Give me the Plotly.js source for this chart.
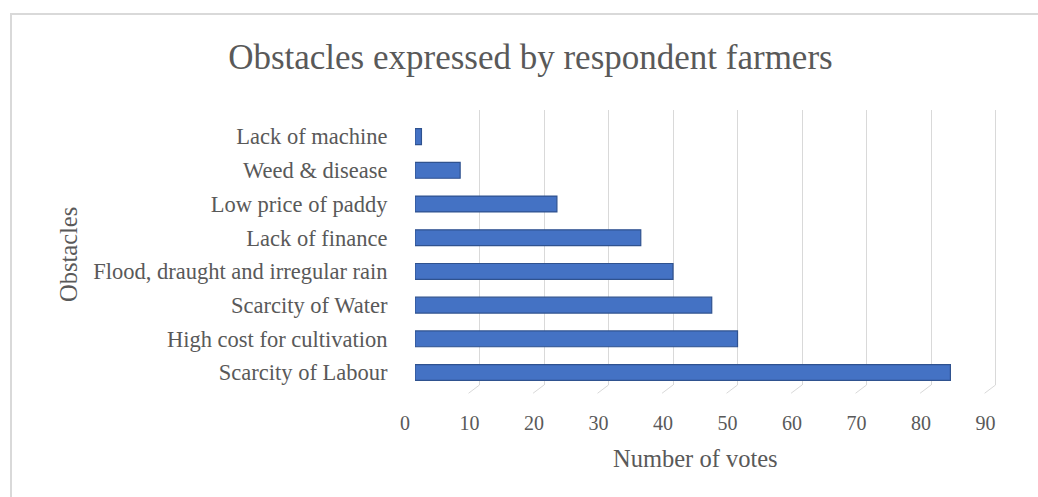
<!DOCTYPE html>
<html>
<head>
<meta charset="utf-8">
<script src="https://cdn.plot.ly/plotly-3.0.1.min.js"></script>
<style>
  html, body { margin: 0; padding: 0; background: #ffffff; }
  #frame { position: absolute; left: 10px; top: 13px; width: 1100px; height: 600px; border: 2px solid #d9d9d9; box-sizing: border-box; pointer-events: none; }
  #chart { position: absolute; left: 0; top: 0; width: 1038px; height: 497px; }
</style>
</head>
<body>
<div id="chart"></div>
<div id="frame"></div>
<script>
const categories = ["Scarcity of Labour", "High cost for cultivation", "Scarcity of Water", "Flood, draught and irregular rain", "Lack of finance", "Low price of paddy", "Weed & disease", "Lack of machine"];
const votes = [83, 50, 46, 40, 35, 22, 7, 1];
const tickVals = [0, 10, 20, 30, 40, 50, 60, 70, 80, 90];
const tickText = ["0", "10", "20", "30", "40", "50", "60", "70", "80", "90"];

const font = "Liberation Serif, Times New Roman, serif";
const grey = "#595959";

const trace = {
  type: "bar",
  orientation: "h",
  y: categories,
  x: votes,
  marker: { color: "#4472C4", line: { color: "#2F528F", width: 1.2 } },
  hoverinfo: "x+y"
};

const floorLines = tickVals.map(v => ({
  type: "line", xref: "x", yref: "paper",
  x0: v, y0: 0, x1: v - 1.7, y1: -0.03,
  line: { color: "#d9d9d9", width: 1 }
}));

const layout = {
  width: 1038, height: 497,
  paper_bgcolor: "rgba(0,0,0,0)",
  plot_bgcolor: "rgba(0,0,0,0)",
  margin: { l: 415, r: 36, t: 110, b: 112 },
  showlegend: false,
  bargap: 0.53,
  title: { text: "Obstacles expressed by respondent farmers", font: { family: font, size: 35, color: grey }, x: 0.511, xanchor: "center", yref: "container", y: 0.885, yanchor: "middle" },
  xaxis: {
    range: [0, 91],
    tickvals: tickVals, ticktext: tickText,
    showgrid: true, gridcolor: "#d9d9d9", gridwidth: 1,
    zeroline: false, showline: false,
    ticks: "outside", ticklen: 20, tickcolor: "rgba(0,0,0,0)",
    ticklabelshift: -10,
    tickfont: { family: font, size: 20, color: grey }
  },
  yaxis: {
    range: [-0.37, 7.79],
    showgrid: false, zeroline: false, showline: false,
    ticks: "outside", ticklen: 22, tickcolor: "rgba(0,0,0,0)",
    tickfont: { family: font, size: 22.5, color: grey }
  },
  shapes: floorLines,
  annotations: [{
    text: "Obstacles", xref: "paper", yref: "paper",
    x: (68 - 415) / 587, y: (497 - 112 - 255) / 275, xanchor: "center", yanchor: "middle",
    textangle: -90, showarrow: false,
    font: { family: font, size: 24.5, color: grey }
  }, {
    text: "Number of votes", xref: "paper", yref: "paper",
    x: (695 - 415) / 587, y: -(458 - 385) / 275, xanchor: "center", yanchor: "middle",
    showarrow: false,
    font: { family: font, size: 24.5, color: grey }
  }]
};

Plotly.newPlot("chart", [trace], layout, { displayModeBar: false, staticPlot: true });
</script>
</body>
</html>
